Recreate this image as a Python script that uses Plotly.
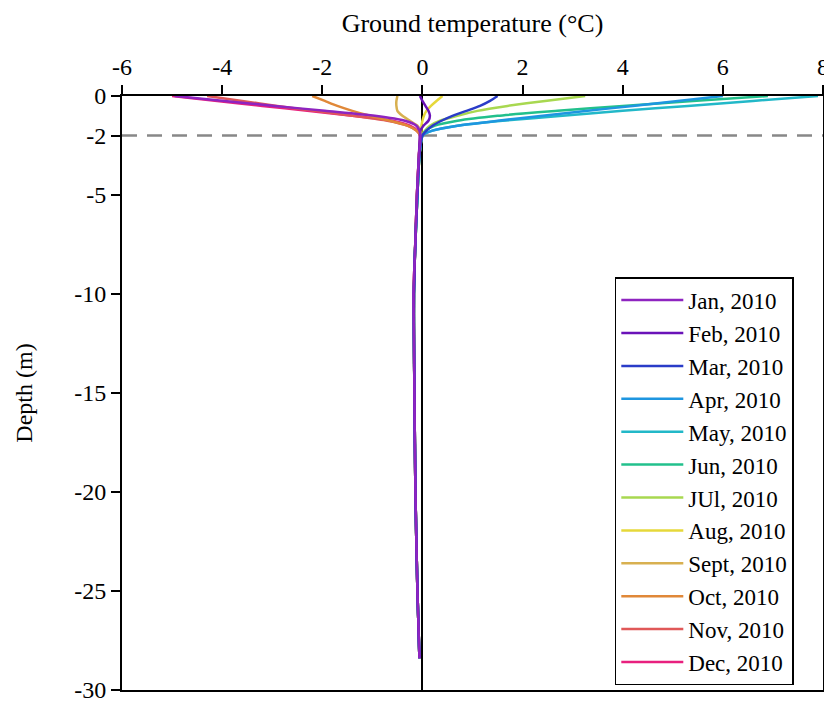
import plotly.graph_objects as go

# Depths (m), shared by every profile
depth = [0, -0.25, -0.5, -0.75, -1.0, -1.25, -1.5, -1.75, -2.0,
         -3, -5, -8, -10, -12, -15, -20, -25, -28.4]

months = ["Jan, 2010", "Feb, 2010", "Mar, 2010", "Apr, 2010", "May, 2010", "Jun, 2010",
          "JUl, 2010", "Aug, 2010", "Sept, 2010", "Oct, 2010", "Nov, 2010", "Dec, 2010"]

t_jan = [-4.95, -3.95, -2.95, -1.95, -0.95, -0.35, -0.12, -0.06, -0.04,
         -0.07, -0.11, -0.15, -0.18, -0.17, -0.16, -0.14, -0.10, -0.06]
t_feb = [-0.05, 0.0, 0.06, 0.12, 0.15, 0.12, 0.02, -0.04, -0.05,
         -0.07, -0.11, -0.15, -0.17, -0.17, -0.16, -0.14, -0.10, -0.06]
t_mar = [1.5, 1.35, 1.15, 0.88, 0.6, 0.38, 0.2, 0.08, 0.0,
         -0.06, -0.10, -0.15, -0.17, -0.17, -0.16, -0.14, -0.10, -0.06]
t_apr = [6.0, 5.1, 4.2, 3.3, 2.4, 1.5, 0.7, 0.2, 0.0,
         -0.06, -0.10, -0.15, -0.17, -0.17, -0.16, -0.14, -0.10, -0.06]
t_may = [7.9, 6.6, 5.3, 4.0, 2.8, 1.6, 0.7, 0.2, 0.0,
         -0.06, -0.10, -0.15, -0.17, -0.17, -0.16, -0.14, -0.10, -0.06]
t_jun = [6.9, 5.4, 4.0, 2.7, 1.5, 0.7, 0.25, 0.07, 0.0,
         -0.06, -0.10, -0.15, -0.17, -0.17, -0.16, -0.14, -0.10, -0.06]
t_jul = [3.25, 2.45, 1.7, 1.1, 0.7, 0.35, 0.15, 0.05, 0.0,
         -0.06, -0.10, -0.15, -0.17, -0.17, -0.16, -0.14, -0.10, -0.06]
t_aug = [0.4, 0.28, 0.17, 0.08, 0.03, 0.0, -0.02, -0.02, -0.02,
         -0.06, -0.10, -0.15, -0.17, -0.17, -0.16, -0.14, -0.10, -0.06]
t_sep = [-0.5, -0.52, -0.52, -0.5, -0.4, -0.25, -0.1, -0.04, -0.02,
         -0.06, -0.10, -0.15, -0.17, -0.17, -0.16, -0.14, -0.10, -0.06]
t_oct = [-2.2, -1.95, -1.7, -1.4, -1.05, -0.65, -0.3, -0.12, -0.04,
         -0.07, -0.11, -0.15, -0.17, -0.17, -0.16, -0.14, -0.10, -0.06]
t_nov = [-4.3, -3.6, -2.9, -2.15, -1.4, -0.7, -0.3, -0.12, -0.05,
         -0.07, -0.11, -0.15, -0.18, -0.17, -0.16, -0.14, -0.10, -0.06]
t_dec = [-5.0, -4.1, -3.2, -2.3, -1.4, -0.6, -0.25, -0.1, -0.05,
         -0.07, -0.11, -0.15, -0.18, -0.17, -0.16, -0.14, -0.10, -0.06]

temps = [t_jan, t_feb, t_mar, t_apr, t_may, t_jun, t_jul, t_aug, t_sep, t_oct, t_nov, t_dec]

colors = ["#8E24C0", "#6A12B8", "#2A3CC8", "#1E96E0", "#22B8C8", "#22C08C",
          "#A8D850", "#E6D83A", "#D8B050", "#E08838", "#E05858", "#E8207E"]

x_ticks = [-6, -4, -2, 0, 2, 4, 6, 8]
y_ticks = [0, -2, -5, -10, -15, -20, -25, -30]

FONT = "Liberation Serif, Times New Roman, serif"

fig = go.Figure()
# drawn from Dec back to Jan so the early months sit on top; legend order reversed back
for name, t, c in reversed(list(zip(months, temps, colors))):
    fig.add_trace(go.Scatter(x=t, y=depth, mode="lines", name=name,
                             line=dict(color=c, width=2.5, shape="spline", smoothing=0.6)))

fig.add_shape(type="line", xref="paper", x0=0, x1=1, yref="y", y0=-2, y1=-2,
              line=dict(color="#888888", width=2.5, dash="15px,10px"), layer="below")

# page body adds an 8 px offset, so the figure is 8 px smaller on each axis
fig.update_layout(
    width=824, height=696,
    margin=dict(l=114, r=9, t=88, b=14, autoexpand=False),
    paper_bgcolor="white", plot_bgcolor="white",
    font=dict(family=FONT, size=24, color="black"),
    showlegend=True,
    legend=dict(x=0.703, y=0.695, xanchor="left", yanchor="top",
                traceorder="reversed",
                bgcolor="white", bordercolor="black", borderwidth=1.5,
                font=dict(family=FONT, size=23, color="black"),
                tracegroupgap=0, itemwidth=62),
    xaxis=dict(range=[-6, 8], side="top", tickvals=x_ticks, ticktext=[str(v) for v in x_ticks],
               showgrid=False, zeroline=True, zerolinecolor="black", zerolinewidth=2,
               showline=True, linecolor="black", linewidth=2, mirror=True,
               ticks="outside", ticklen=9, tickwidth=2, tickcolor="black",
               ticklabeloverflow="allow", automargin=False,
               tickfont=dict(family=FONT, size=24),
               title=dict(text="Ground temperature (°C)", font=dict(family=FONT, size=26), standoff=14)),
    yaxis=dict(range=[-30, 0], tickvals=y_ticks, ticktext=[str(v) for v in y_ticks],
               showgrid=False, zeroline=False,
               showline=True, linecolor="black", linewidth=2, mirror=True,
               ticks="outside", ticklen=9, tickwidth=2, tickcolor="black",
               ticklabeloverflow="allow", automargin=False,
               tickfont=dict(family=FONT, size=24),
               title=dict(text="Depth (m)", font=dict(family=FONT, size=24), standoff=35)),
)

fig.write_html("out.html")
